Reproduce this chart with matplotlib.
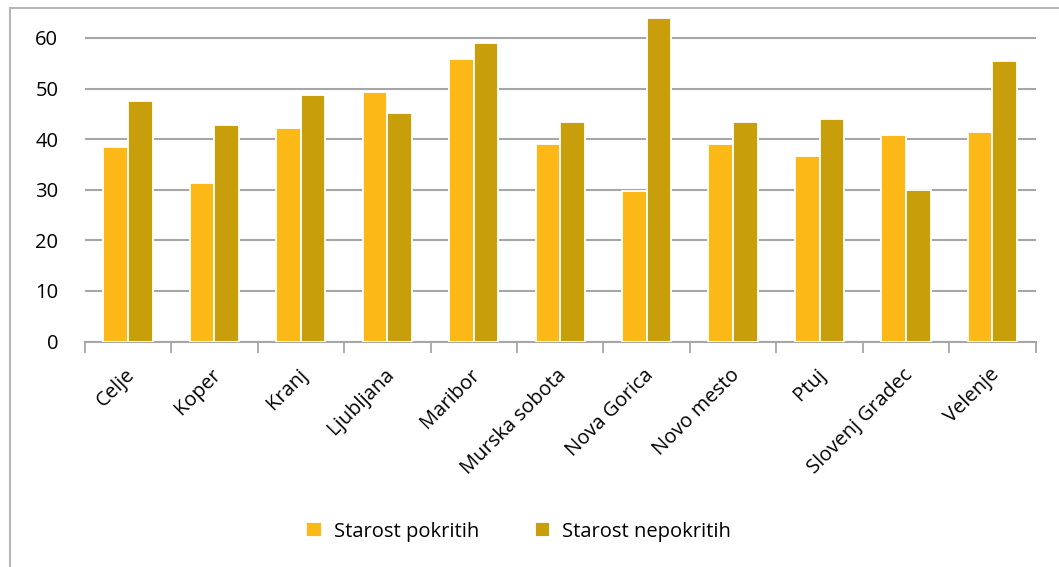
import matplotlib.pyplot as plt
import numpy as np
from matplotlib.patches import Rectangle

plt.rcParams['font.family'] = ['Open Sans', 'DejaVu Sans']

# Data
cities = ['Celje', 'Koper', 'Kranj', 'Ljubljana', 'Maribor', 'Murska sobota',
          'Nova Gorica', 'Novo mesto', 'Ptuj', 'Slovenj Gradec', 'Velenje']
pokritih = [38.5, 31.3, 42.2, 49.4, 55.9, 39.1, 29.8, 39.0, 36.7, 40.9, 41.5]
nepokritih = [47.5, 42.7, 48.7, 45.1, 59.0, 43.3, 64.0, 43.3, 44.0, 30.0, 55.4]
series_names = ['Starost pokritih', 'Starost nepokritih']
yticks = [0, 10, 20, 30, 40, 50, 60]

c1 = '#FBB817'
c2 = '#C89E0A'
grid_c = '#A6A6A6'
fs = 14.5

fig = plt.figure(figsize=(10.59, 5.67), dpi=100)
ax = fig.add_axes([0.080, 0.3977, 0.898, 0.58])

x = np.arange(len(cities))
w = 0.285
ax.bar(x - w / 2, pokritih, w, color=c1, edgecolor='white', linewidth=1.3,
       label=series_names[0], zorder=3)
ax.bar(x + w / 2, nepokritih, w, color=c2, edgecolor='white', linewidth=1.3,
       label=series_names[1], zorder=3)

ax.set_xlim(-0.5, len(cities) - 0.5)
ax.set_ylim(0, 65)
ax.set_yticks(yticks)
ax.tick_params(axis='y', length=0, pad=19, labelsize=fs)
ax.yaxis.grid(True, color=grid_c, linewidth=1.5, zorder=0)
ax.set_axisbelow(True)

# ticks at category boundaries, labels at centers
ax.set_xticks(np.arange(len(cities) + 1) - 0.5)
ax.set_xticklabels([])
ax.tick_params(axis='x', which='major', length=8, width=1.3, color=grid_c,
               direction='out')
ax.set_xticks(x + 0.04, minor=True)
ax.set_xticklabels(cities, minor=True, rotation=45, ha='right',
                   rotation_mode='anchor', fontsize=fs)
ax.tick_params(axis='x', which='minor', length=0, pad=22)
for lbl in ax.get_xticklabels(minor=True):
    lbl.set_va('center')

for s in ['top', 'right', 'left']:
    ax.spines[s].set_visible(False)
ax.spines['bottom'].set_color(grid_c)
ax.spines['bottom'].set_linewidth(1.5)

fig.legend(loc='center', bbox_to_anchor=(0.49, 0.062), ncol=2, frameon=False,
           fontsize=fs, handlelength=0.75, handleheight=0.75,
           handletextpad=0.6, columnspacing=2.8)

# outer chart frame
fig.patches.append(Rectangle((10 / 1059, -0.05), 1.1, 1 - 8 / 567 + 0.05,
                             transform=fig.transFigure, fill=False,
                             edgecolor='#B5B5B5', linewidth=1.5))

fig.savefig('out.png', dpi=100)
